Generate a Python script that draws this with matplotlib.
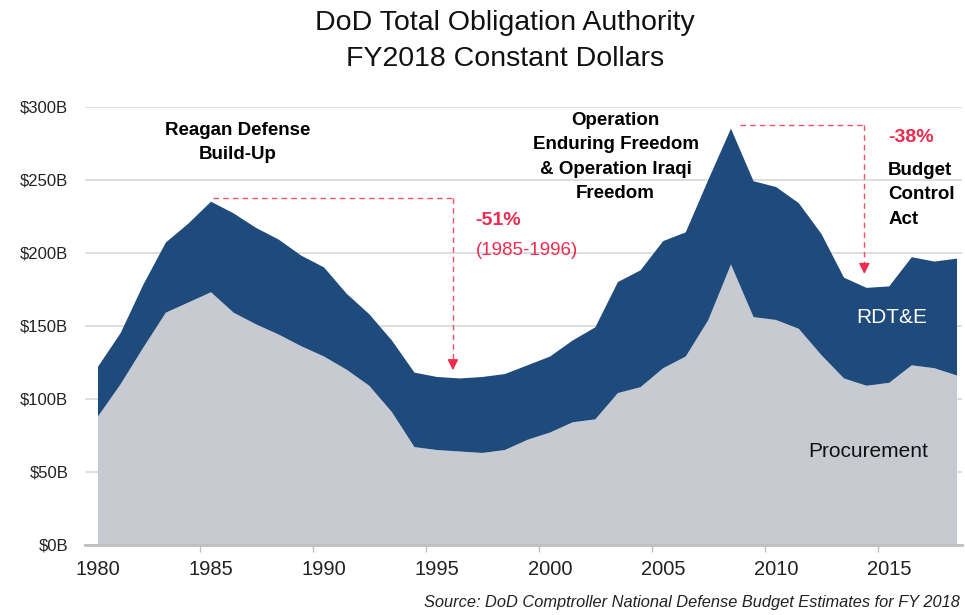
import matplotlib
matplotlib.use("Agg")
import matplotlib.pyplot as plt

plt.rcParams['font.family'] = ['Liberation Sans', 'DejaVu Sans']

years = list(range(1980, 2019))
procurement = [88, 110, 135, 159, 166, 173, 159, 151, 144, 136,
               129, 120, 109, 91, 67, 65, 64, 63, 65, 72,
               77, 84, 86, 104, 108, 121, 129, 154, 192, 156,
               154, 148, 130, 114, 109, 111, 123, 121, 116]
rdte = [34, 35, 43, 48, 54, 62, 68, 66, 65, 62,
        61, 52, 49, 49, 51, 50, 50, 52, 52, 51,
        52, 56, 63, 76, 80, 87, 85, 96, 93, 93,
        91, 86, 83, 69, 67, 66, 74, 73, 80]
yticks = [0, 50, 100, 150, 200, 250, 300]
ytick_labels = ['$0B', '$50B', '$100B', '$150B', '$200B', '$250B', '$300B']
xticks = [1980, 1985, 1990, 1995, 2000, 2005, 2010, 2015]

gray = '#C7CBD1'
navy = '#1F4B7C'
red = '#EE2C4F'
red_dash = '#F0506E'

fig = plt.figure(figsize=(9.65, 6.15), dpi=100)
ax = fig.add_axes([85 / 965, 1 - 545 / 615, (962 - 85) / 965, (545 - 106.7) / 615])

ax.stackplot(years, procurement, rdte, colors=[gray, navy], linewidth=0)

ax.set_xlim(1979.425, 2018.22)
ax.set_ylim(0, 300)
ax.set_axisbelow(True)
ax.yaxis.grid(True, color='#D9D9D9', linewidth=1.2)
for s in ['top', 'left', 'right']:
    ax.spines[s].set_visible(False)
ax.spines['bottom'].set_color('#BFBFBF')
ax.spines['bottom'].set_linewidth(2)
ax.spines['bottom'].set_zorder(5)

ax.set_yticks(yticks)
ax.set_yticklabels(ytick_labels)
ax.tick_params(axis='y', length=0, pad=12, labelsize=12, labelcolor='#222222')
ax.set_xticks(xticks)
ax.set_xticks([y + 0.5 for y in range(1984, 2018, 5)], minor=True)
ax.tick_params(axis='x', which='major', length=0, pad=11, labelsize=14.5, labelcolor='#222222')
ax.tick_params(axis='x', which='minor', length=5, width=1, color='#BFBFBF')

# dashed drop lines
ax.plot([1985.09, 1995.7], [237.5, 237.5], color=red_dash, lw=1, dashes=(4, 3))
ax.plot([1995.7, 1995.7], [237.5, 122], color=red_dash, lw=1, dashes=(4, 3))
ax.annotate('', xy=(1995.7, 117.7), xytext=(1995.7, 124),
            arrowprops=dict(arrowstyle='-|>', color=red, lw=1, mutation_scale=16))
ax.plot([2008.4, 2013.9], [287.5, 287.5], color=red_dash, lw=1, dashes=(4, 3))
ax.plot([2013.9, 2013.9], [287.5, 188], color=red_dash, lw=1, dashes=(4, 3))
ax.annotate('', xy=(2013.9, 183.6), xytext=(2013.9, 190),
            arrowprops=dict(arrowstyle='-|>', color=red, lw=1, mutation_scale=16))

ax.text(1986.2, 275.5, 'Reagan Defense\nBuild-Up', ha='center', va='center',
        fontsize=13.5, fontweight='bold', linespacing=1.55)
ax.text(2002.9, 265.6, 'Operation\nEnduring Freedom\n& Operation Iraqi\nFreedom',
        ha='center', va='center', fontsize=13.5, fontweight='bold', linespacing=1.55)
ax.text(1996.7, 222.4, '-51%', ha='left', va='center', fontsize=14,
        fontweight='bold', color=red)
ax.text(1996.7, 201.9, '(1985-1996)', ha='left', va='center', fontsize=13.5, color=red)
ax.text(2014.95, 278.6, '-38%', ha='left', va='center', fontsize=14,
        fontweight='bold', color=red)
ax.text(2014.95, 239.6, 'Budget\nControl\nAct', ha='left', va='center',
        fontsize=13.5, fontweight='bold', linespacing=1.55)
ax.text(2015.13, 155.4, 'RDT&E', ha='center', va='center', fontsize=15, color='white')
ax.text(2014.07, 63.7, 'Procurement', ha='center', va='center', fontsize=15, color='#111111')

fig.text(505 / 965, 1 - 41 / 615, 'DoD Total Obligation Authority\nFY2018 Constant Dollars',
         ha='center', va='center', fontsize=20.5, linespacing=1.55, color='#111111')
fig.text(960 / 965, 1 - 603 / 615,
         'Source: DoD Comptroller National Defense Budget Estimates for FY 2018',
         ha='right', va='center', fontsize=11.8, style='italic', color='#222222')

fig.savefig('out.png', dpi=100)
